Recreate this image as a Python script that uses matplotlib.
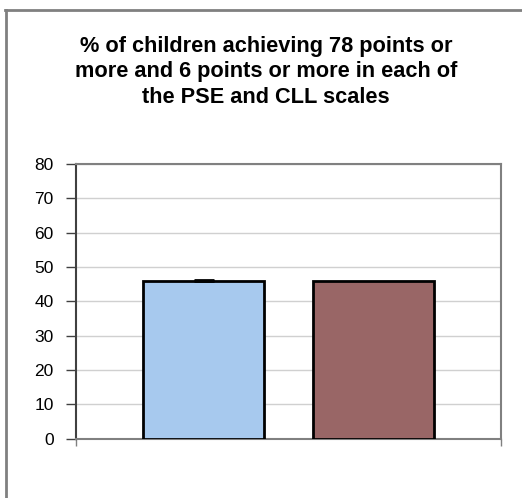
import matplotlib.pyplot as plt
from matplotlib.lines import Line2D

plt.rcParams['font.family'] = ['Liberation Sans', 'DejaVu Sans']

# data
series = ['Series 1', 'Series 2']
values = [46, 46]
errors = [0.2, 0.0]
colors = ['#A7C9EE', '#996666']
yticks = [0, 10, 20, 30, 40, 50, 60, 70, 80]
title = '% of children achieving 78 points or\nmore and 6 points or more in each of\nthe PSE and CLL scales'

fig = plt.figure(figsize=(5.22, 4.98), dpi=100)
ax = fig.add_axes([76/522, 1-438.7/498, (501-76)/522, (438.7-164)/498])

pos = [-0.5, 0.5]
ax.bar(pos, values, width=0.712, color=colors, edgecolor='black', linewidth=2, zorder=3)
ax.errorbar(pos[0], values[0], yerr=errors[0], fmt='none', ecolor='black',
            capsize=7, capthick=2, elinewidth=1, zorder=4)

ax.set_xlim(-1.25, 1.25)
ax.set_ylim(0, 80)
ax.set_yticks(yticks)
ax.set_yticklabels([str(t) for t in yticks], fontsize=12.5)
ax.set_xticks([-1.25, 1.25])
ax.set_xticklabels(['', ''])
ax.tick_params(axis='y', direction='out', length=7, width=1, color='#404040', pad=9)
ax.tick_params(axis='x', direction='out', length=5, width=1, color='#808080')
ax.yaxis.grid(True, color='#D0D0D0', linewidth=1)
ax.set_axisbelow(True)

ax.spines['left'].set_color('#404040')
ax.spines['left'].set_linewidth(1.5)
for s in ['top', 'right', 'bottom']:
    ax.spines[s].set_color('#808080')
    ax.spines[s].set_linewidth(1.5)

fig.text(266/522, 1-72/498, title, ha='center', va='center', fontsize=15.7,
         fontweight='bold', linespacing=1.28)

# outer chart frame (left and top only visible)
fig.add_artist(Line2D([6/522, 6/522], [0, 1-10/498], color='#808080', linewidth=2,
                      transform=fig.transFigure))
fig.add_artist(Line2D([5/522, 1], [1-10/498, 1-10/498], color='#808080', linewidth=2,
                      transform=fig.transFigure))

fig.savefig('out.png', dpi=100)
